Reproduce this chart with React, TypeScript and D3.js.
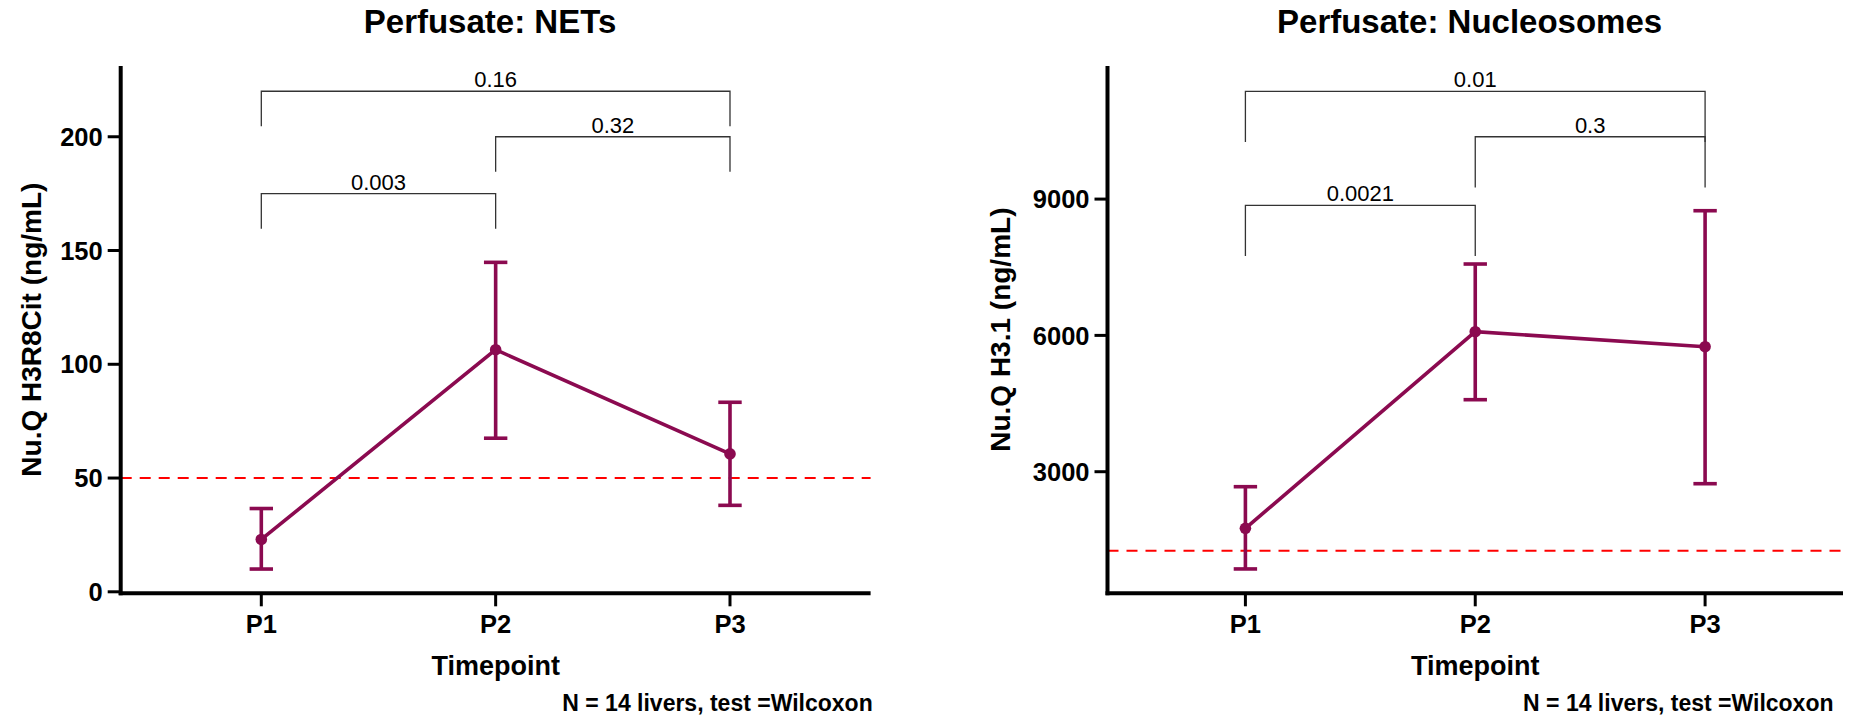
import React from 'react';
import * as d3 from 'd3';

// Timepoints on the x axis
const timepoints = ['P1', 'P2', 'P3'];

// Perfusate NETs (Nu.Q H3R8Cit, ng/mL): mean with error-bar limits
const netsMean = [23, 106.4, 60.6];
const netsLow = [10, 67.5, 38];
const netsHigh = [36.6, 144.8, 83.3];
const netsTicks = [0, 50, 100, 150, 200];
const netsCutoff = 50;

// Perfusate nucleosomes (Nu.Q H3.1, ng/mL): mean with error-bar limits
const nucMean = [1754, 6081, 5751];
const nucLow = [860, 4585, 2736];
const nucHigh = [2670, 7571, 8744];
const nucTicks = [3000, 6000, 9000];
const nucCutoff = 1260;

// Pairwise Wilcoxon comparisons: groups, p value, bracket level (data units)
const netsPairs = [
  { from: 'P1', to: 'P2', p: '0.003', level: 175 },
  { from: 'P2', to: 'P3', p: '0.32', level: 200 },
  { from: 'P1', to: 'P3', p: '0.16', level: 220 },
];
const nucPairs = [
  { from: 'P1', to: 'P2', p: '0.0021', level: 8863 },
  { from: 'P2', to: 'P3', p: '0.3', level: 10372 },
  { from: 'P1', to: 'P3', p: '0.01', level: 11371 },
];

const caption = 'N = 14 livers, test =Wilcoxon';
const FONT = '"Liberation Sans", Arial, Helvetica, sans-serif';
const COLOR = '#8B0A50';

type Pair = { from: string; to: string; p: string; level: number };

interface PanelProps {
  title: string;
  yLabel: string;
  mean: number[];
  low: number[];
  high: number[];
  ticks: number[];
  cutoff: number;
  pairs: Pair[];
  tip: number;
  yDomain: [number, number];
  xRange: [number, number];
  titleX: number;
  yLabelX: number;
  captionX: number;
}

function Panel(props: PanelProps) {
  const { title, yLabel, mean, low, high, ticks, cutoff, pairs, tip, yDomain, xRange, titleX, yLabelX, captionX } = props;
  const top = 66;
  const bottom = 593.3;
  const x = d3.scaleLinear().domain([0.4, 3.6]).range(xRange);
  const xOf = (name: string) => x(timepoints.indexOf(name) + 1);
  const y = d3.scaleLinear().domain(yDomain).range([bottom, top]);
  const pts = timepoints.map((t, i) => [x(i + 1), y(mean[i])] as [number, number]);
  const line = d3.line()(pts) || '';
  const left = xRange[0];
  const right = xRange[1];
  const cap = 11.7;
  const midY = (top + bottom) / 2;

  return (
    <g>
      <text x={titleX} y={33} textAnchor="middle" fontFamily={FONT} fontWeight="bold" fontSize={33} fill="#000">
        {title}
      </text>

      {/* cutoff line */}
      <line x1={left} x2={right} y1={y(cutoff)} y2={y(cutoff)} stroke="#FF0000" strokeWidth={2} strokeDasharray="11 8" />

      {/* comparison brackets */}
      {pairs.map((pr, i) => {
        const x1 = xOf(pr.from);
        const x2 = xOf(pr.to);
        const yl = y(pr.level);
        const yt = y(pr.level - tip);
        return (
          <g key={i}>
            <path d={`M${x1},${yt}V${yl}H${x2}V${yt}`} fill="none" stroke="#333" strokeWidth={1.3} />
            <text x={(x1 + x2) / 2} y={yl - 4} textAnchor="middle" fontFamily={FONT} fontSize={22} fill="#000">
              {pr.p}
            </text>
          </g>
        );
      })}

      {/* mean line, error bars, points */}
      <path d={line} fill="none" stroke={COLOR} strokeWidth={3.6} />
      {timepoints.map((t, i) => {
        const cx = x(i + 1);
        return (
          <g key={t} stroke={COLOR} strokeWidth={3.6}>
            <line x1={cx} x2={cx} y1={y(low[i])} y2={y(high[i])} />
            <line x1={cx - cap} x2={cx + cap} y1={y(low[i])} y2={y(low[i])} />
            <line x1={cx - cap} x2={cx + cap} y1={y(high[i])} y2={y(high[i])} />
            <circle cx={cx} cy={y(mean[i])} r={5.8} fill={COLOR} stroke="none" />
          </g>
        );
      })}

      {/* axes */}
      <line x1={left} x2={left} y1={top} y2={bottom + 2} stroke="#000" strokeWidth={4} />
      <line x1={left - 2} x2={right} y1={bottom} y2={bottom} stroke="#000" strokeWidth={4} />
      {ticks.map((v) => (
        <g key={v}>
          <line x1={left - 13} x2={left} y1={y(v)} y2={y(v)} stroke="#000" strokeWidth={3} />
          <text x={left - 18} y={y(v)} dy="0.36em" textAnchor="end" fontFamily={FONT} fontWeight="bold" fontSize={25.5} fill="#000">
            {v}
          </text>
        </g>
      ))}
      {timepoints.map((t, i) => (
        <g key={t}>
          <line x1={x(i + 1)} x2={x(i + 1)} y1={bottom} y2={bottom + 13} stroke="#000" strokeWidth={3} />
          <text x={x(i + 1)} y={633} textAnchor="middle" fontFamily={FONT} fontWeight="bold" fontSize={25.5} fill="#000">
            {t}
          </text>
        </g>
      ))}
      <text x={(left + right) / 2} y={675} textAnchor="middle" fontFamily={FONT} fontWeight="bold" fontSize={27} fill="#000">
        Timepoint
      </text>
      <text
        transform={`translate(${yLabelX},${midY}) rotate(-90)`}
        textAnchor="middle"
        fontFamily={FONT}
        fontWeight="bold"
        fontSize={28}
        fill="#000"
      >
        {yLabel}
      </text>
      <text x={captionX} y={711} textAnchor="end" fontFamily={FONT} fontWeight="bold" fontSize={23} fill="#000">
        {caption}
      </text>
    </g>
  );
}

export default function App() {
  return (
    <svg
      width={1852}
      height={718}
      viewBox="0 0 1852 718"
      style={{ position: 'absolute', left: 0, top: 0, background: '#fff', display: 'block' }}
    >
      <rect width={1852} height={718} fill="#fff" />
      <Panel
        title="Perfusate: NETs"
        yLabel="Nu.Q H3R8Cit (ng/mL)"
        mean={netsMean}
        low={netsLow}
        high={netsHigh}
        ticks={netsTicks}
        cutoff={netsCutoff}
        pairs={netsPairs}
        tip={15.4}
        yDomain={[-0.66, 231.1]}
        xRange={[120.7, 870.6]}
        titleX={490}
        yLabelX={40.7}
        captionX={872.7}
      />
      <Panel
        title="Perfusate: Nucleosomes"
        yLabel="Nu.Q H3.1 (ng/mL)"
        mean={nucMean}
        low={nucLow}
        high={nucHigh}
        ticks={nucTicks}
        cutoff={nucCutoff}
        pairs={nucPairs}
        tip={1116}
        yDomain={[324, 11929]}
        xRange={[1107.5, 1843]}
        titleX={1469.6}
        yLabelX={1010}
        captionX={1833.5}
      />
    </svg>
  );
}
